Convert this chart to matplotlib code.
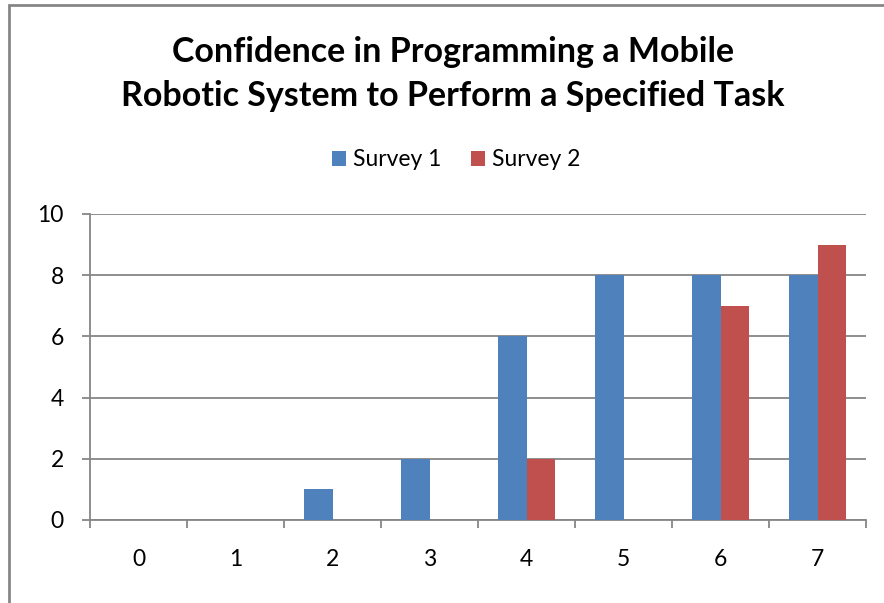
import matplotlib
matplotlib.use("Agg")
import matplotlib.pyplot as plt
import numpy as np
from matplotlib.patches import Rectangle

categories = ["0", "1", "2", "3", "4", "5", "6", "7"]
survey1 = [0, 0, 1, 2, 6, 8, 8, 8]
survey2 = [0, 0, 0, 0, 2, 0, 7, 9]
series_names = ["Survey 1", "Survey 2"]
colors = ["#4F81BD", "#C0504D"]
title = "Confidence in Programming a Mobile\nRobotic System to Perform a Specified Task"

plt.rcParams['font.family'] = ['Lato', 'DejaVu Sans']
W, H = 884, 603
fig = plt.figure(figsize=(W/100, H/100), dpi=100)
ax = fig.add_axes([90/W, 1-520/H, (866-90)/W, (520-214)/H])

x = np.arange(len(categories))
bw = 0.29
ax.bar(x - bw/2, survey1, bw, color=colors[0], label=series_names[0], zorder=3)
ax.bar(x + bw/2, survey2, bw, color=colors[1], label=series_names[1], zorder=3)

ax.set_xlim(-0.5, len(categories)-0.5)
ax.set_ylim(0, 10)
ax.set_yticks(range(0, 11, 2))
ax.set_xticks(x)
ax.set_xticklabels(categories)
ax.set_xticks(np.arange(-0.5, len(categories), 1), minor=True)
ax.tick_params(axis='x', which='major', length=0, pad=21, labelsize=16.5)
ax.tick_params(axis='x', which='minor', length=5.8, width=1.3, color='#868686')
ax.tick_params(axis='y', length=5.8, width=1.3, color='#868686', pad=13, labelsize=16.5)
ax.yaxis.grid(True, color='#868686', linewidth=1.3, zorder=0)
for s in ['top', 'right']:
    ax.spines[s].set_visible(False)
for s in ['left', 'bottom']:
    ax.spines[s].set_color('#868686')
    ax.spines[s].set_linewidth(1.3)

fig.text(453/W, 1-74/H, title, ha='center', va='center', fontsize=24.5, fontweight='bold', linespacing=1.45)
leg = fig.legend(loc='center', bbox_to_anchor=(456/W, 1-160/H), ncol=2, frameon=False,
                 fontsize=16.5, handlelength=0.6, handleheight=0.6, handletextpad=0.3, columnspacing=1.3)

fig.patches.append(Rectangle((8.5/W, -0.1), 1.2, 1.1-5.5/H, transform=fig.transFigure,
                             fill=False, edgecolor='#868686', linewidth=2))
fig.savefig("out.png", dpi=100)
